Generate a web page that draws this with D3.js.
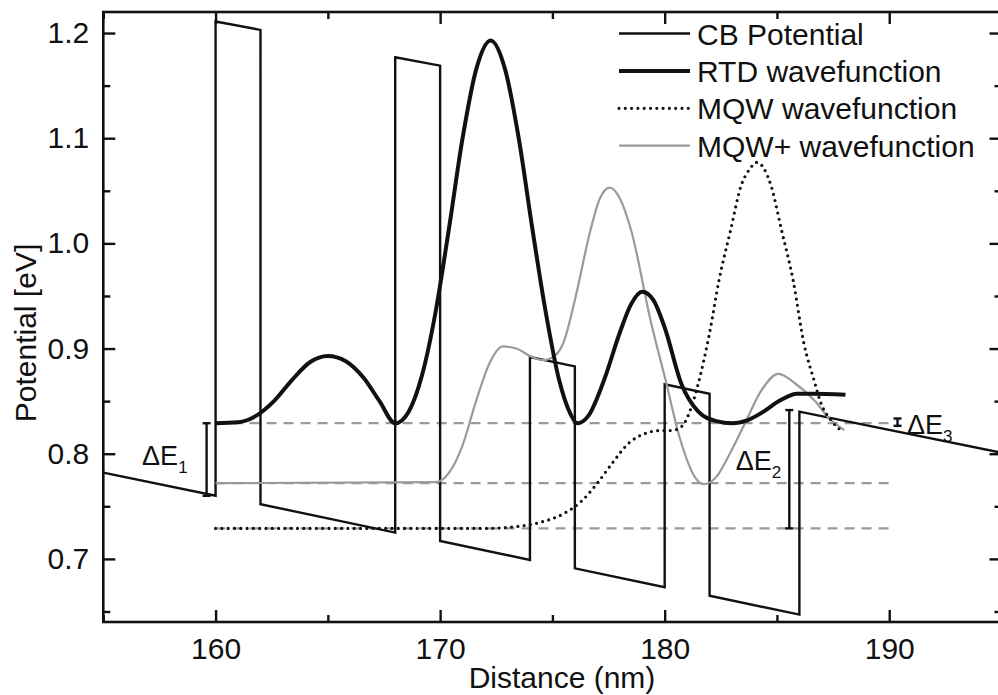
<!DOCTYPE html>
<html>
<head>
<meta charset="utf-8">
<script src="https://cdn.jsdelivr.net/npm/d3@7/dist/d3.min.js"></script>
<style>
  html, body { margin: 0; padding: 0; background: #fff; }
  svg text { font-family: "Liberation Sans", Arial, sans-serif; fill: #111; }
</style>
</head>
<body>
<svg id="chart" width="998" height="695"></svg>
<script>
// Conduction band profile (nm, eV) — piecewise linear under bias
const cbDistance = [155, 160, 160, 162, 162, 168, 168, 170, 170, 174, 174, 176, 176, 180, 180, 182, 182, 186, 186, 195];
const cbPotential = [0.782, 0.760, 1.211, 1.203, 0.752, 0.725, 1.177, 1.169, 0.717, 0.699, 0.892, 0.883, 0.691, 0.673, 0.866, 0.857, 0.665, 0.647, 0.840, 0.801];

// RTD wavefunction (offset to its eigen-energy)
const rtdDistance = [160, 161, 161.8, 162.6, 163.4, 164.2, 165, 165.8, 166.6, 167.3, 168, 168.6, 169.2, 169.8, 170.4, 171, 171.6, 172.25, 172.9, 173.5, 174.1, 174.7, 175.3, 175.8, 176.1, 176.6, 177.3, 178, 178.5, 179, 179.5, 180, 180.75, 181.5, 182.3, 183, 183.7, 184.4, 185.17, 185.9, 186.5, 188.05];
const rtdValue = [0.829, 0.830, 0.836, 0.850, 0.870, 0.887, 0.893, 0.888, 0.872, 0.850, 0.829, 0.840, 0.875, 0.935, 1.015, 1.100, 1.165, 1.193, 1.165, 1.100, 1.015, 0.935, 0.870, 0.838, 0.829, 0.836, 0.870, 0.915, 0.942, 0.954, 0.946, 0.920, 0.866, 0.840, 0.831, 0.829, 0.832, 0.840, 0.851, 0.857, 0.857, 0.856];

// MQW ground-state wavefunction
const mqwDistance = [160, 172, 173.5, 174.5, 175.5, 176.3, 177, 177.7, 178.4, 179.1, 179.8, 180.3, 180.76, 181.2, 181.5, 182, 182.42, 182.94, 183.39, 183.8, 184.1, 184.75, 185.2, 185.72, 186.2, 186.65, 186.96, 187.4, 187.92];
const mqwValue = [0.729, 0.729, 0.731, 0.735, 0.743, 0.755, 0.772, 0.792, 0.810, 0.819, 0.822, 0.822, 0.826, 0.845, 0.867, 0.915, 0.965, 1.013, 1.054, 1.071, 1.077, 1.054, 1.013, 0.965, 0.905, 0.870, 0.848, 0.832, 0.821];

// MQW+ wavefunction
const mqwpDistance = [160, 169.8, 170.4, 171.0, 171.6, 172.2, 172.8, 173.4, 174.0, 174.6, 175.1, 175.5, 176, 176.7, 177.1, 177.55, 178, 178.5, 179.37, 180.04, 180.7, 181.37, 181.75, 182.3, 182.9, 183.6, 184.3, 185.07, 185.8, 186.65, 187.4, 188];
const mqwpValue = [0.772, 0.773, 0.782, 0.808, 0.850, 0.886, 0.902, 0.900, 0.893, 0.889, 0.893, 0.906, 0.946, 1.013, 1.042, 1.053, 1.043, 1.013, 0.927, 0.870, 0.813, 0.777, 0.771, 0.778, 0.800, 0.830, 0.860, 0.876, 0.867, 0.851, 0.832, 0.8225];

// Reference energy levels (dashed)
const levelEnergy = [0.829, 0.772, 0.729];
const levelStart = 160, levelEnd = 190;

// Energy-difference markers: position (nm), lower and upper energy (eV)
const deltaNames = ["1", "2", "3"];
const deltaX = [159.6, 185.55, 190.37];
const deltaLow = [0.760, 0.729, 0.8265];
const deltaHigh = [0.829, 0.8415, 0.8335];

// Axis ticks
const xMajor = [160, 170, 180, 190];
const xMinor = [155, 165, 175, 185, 195];
const yMajor = [0.7, 0.8, 0.9, 1.0, 1.1, 1.2];
const yMinor = [0.65, 0.75, 0.85, 0.95, 1.05, 1.15];

const legendLabels = ["CB Potential", "RTD wavefunction", "MQW wavefunction", "MQW+ wavefunction"];

const svg = d3.select("#chart");
const plotL = 103.3, plotR = 1001.5, plotT = 12, plotB = 622;

const x = d3.scaleLinear().domain([155, 195]).range([plotL, plotR]);
const y = d3.scaleLinear().domain([0.64, 1.22]).range([plotB, plotT]);

const ink = "#111";
const gray = "#9a9a9a";

// axes: ticks point inwards on all four sides
function styleAxis(g) {
  g.select(".domain").remove();
  g.selectAll(".tick line").attr("stroke", ink).attr("stroke-width", 2.4);
  g.selectAll(".tick text").attr("font-size", 30).attr("fill", ink)
    .style("font-family", "'Liberation Sans', Arial, sans-serif");
}
svg.append("g").attr("transform", `translate(0,${plotB})`)
  .call(d3.axisBottom(x).tickValues(xMajor).tickFormat(d3.format("d")).tickSizeInner(-12).tickSizeOuter(0).tickPadding(16)).call(styleAxis);
svg.append("g").attr("transform", `translate(0,${plotB})`)
  .call(d3.axisBottom(x).tickValues(xMinor).tickFormat("").tickSizeInner(-7).tickSizeOuter(0)).call(styleAxis);
svg.append("g").attr("transform", `translate(0,${plotT})`)
  .call(d3.axisTop(x).tickValues(xMajor).tickFormat("").tickSizeInner(-12).tickSizeOuter(0)).call(styleAxis);
svg.append("g").attr("transform", `translate(0,${plotT})`)
  .call(d3.axisTop(x).tickValues(xMinor).tickFormat("").tickSizeInner(-7).tickSizeOuter(0)).call(styleAxis);

svg.append("g").attr("transform", `translate(${plotL},0)`)
  .call(d3.axisLeft(y).tickValues(yMajor).tickFormat(d3.format(".1f")).tickSizeInner(-12).tickSizeOuter(0).tickPadding(14)).call(styleAxis);
svg.append("g").attr("transform", `translate(${plotL},0)`)
  .call(d3.axisLeft(y).tickValues(yMinor).tickFormat("").tickSizeInner(-7).tickSizeOuter(0)).call(styleAxis);
svg.append("g").attr("transform", `translate(${plotR},0)`)
  .call(d3.axisRight(y).tickValues(yMajor).tickFormat("").tickSizeInner(-12).tickSizeOuter(0)).call(styleAxis);
svg.append("g").attr("transform", `translate(${plotR},0)`)
  .call(d3.axisRight(y).tickValues(yMinor).tickFormat("").tickSizeInner(-7).tickSizeOuter(0)).call(styleAxis);

// frame
svg.append("rect").attr("x", plotL).attr("y", plotT)
  .attr("width", plotR - plotL).attr("height", plotB - plotT)
  .attr("fill", "none").attr("stroke", ink).attr("stroke-width", 2.6);

// axis titles
svg.append("text").attr("x", 562).attr("y", 688).attr("text-anchor", "middle")
  .attr("font-size", 30).text("Distance (nm)");
svg.append("text").attr("transform", "translate(36,333) rotate(-90)")
  .attr("text-anchor", "middle").attr("font-size", 30).text("Potential [eV]");

// dashed energy levels
svg.append("g").selectAll("line").data(levelEnergy).join("line")
  .attr("x1", x(levelStart)).attr("x2", x(levelEnd))
  .attr("y1", d => y(d)).attr("y2", d => y(d))
  .attr("stroke", gray).attr("stroke-width", 2.2).attr("stroke-dasharray", "10 7");

const zip = (xs, ys) => xs.map((d, i) => [d, ys[i]]);
const straight = d3.line().x(d => x(d[0])).y(d => y(d[1]));
const smooth = d3.line().x(d => x(d[0])).y(d => y(d[1])).curve(d3.curveMonotoneX);

// conduction band
svg.append("path").datum(zip(cbDistance, cbPotential)).attr("d", straight)
  .attr("fill", "none").attr("stroke", ink).attr("stroke-width", 2.4).attr("stroke-linejoin", "miter");

// wavefunctions
svg.append("path").datum(zip(mqwpDistance, mqwpValue)).attr("d", smooth)
  .attr("fill", "none").attr("stroke", gray).attr("stroke-width", 2.2);
svg.append("path").datum(zip(mqwDistance, mqwValue)).attr("d", smooth)
  .attr("fill", "none").attr("stroke", ink).attr("stroke-width", 3.2)
  .attr("stroke-linecap", "round").attr("stroke-dasharray", "0 6.3");
svg.append("path").datum(zip(rtdDistance, rtdValue)).attr("d", smooth)
  .attr("fill", "none").attr("stroke", ink).attr("stroke-width", 4);

// energy-difference markers
const labelPos = [
  { dx: -64.5, y: 465 },
  { dx: -53.5, y: 470 },
  { dx: 9.5, y: 434 }
];
deltaNames.forEach((n, i) => {
  const g = svg.append("g");
  const cx = x(deltaX[i]), y0 = y(deltaLow[i]), y1 = y(deltaHigh[i]);
  g.append("line").attr("x1", cx).attr("x2", cx).attr("y1", y0).attr("y2", y1)
    .attr("stroke", ink).attr("stroke-width", 2.4);
  [y0, y1].forEach(v => g.append("line").attr("x1", cx - 4).attr("x2", cx + 4)
    .attr("y1", v).attr("y2", v).attr("stroke", ink).attr("stroke-width", 2.4));
  const t = g.append("text").attr("x", cx + labelPos[i].dx).attr("y", labelPos[i].y).attr("font-size", 27);
  t.append("tspan").text("\u0394E");
  t.append("tspan").attr("font-size", 17).attr("dy", 8).text(n);
});

// legend
const legendStyles = [
  { stroke: ink, width: 2.4, dash: null },
  { stroke: ink, width: 4, dash: null },
  { stroke: ink, width: 3.2, dash: "0 6.3" },
  { stroke: gray, width: 2.2, dash: null }
];
const lg = svg.append("g");
legendLabels.forEach((lab, i) => {
  const ly = 33.5 + i * 37.4;
  const s = legendStyles[i];
  const ln = lg.append("line").attr("x1", 619).attr("x2", 690).attr("y1", ly).attr("y2", ly)
    .attr("stroke", s.stroke).attr("stroke-width", s.width);
  if (s.dash) ln.attr("stroke-dasharray", s.dash).attr("stroke-linecap", "round");
  lg.append("text").attr("x", 697).attr("y", ly + 11).attr("font-size", 30).text(lab);
});
</script>
</body>
</html>
